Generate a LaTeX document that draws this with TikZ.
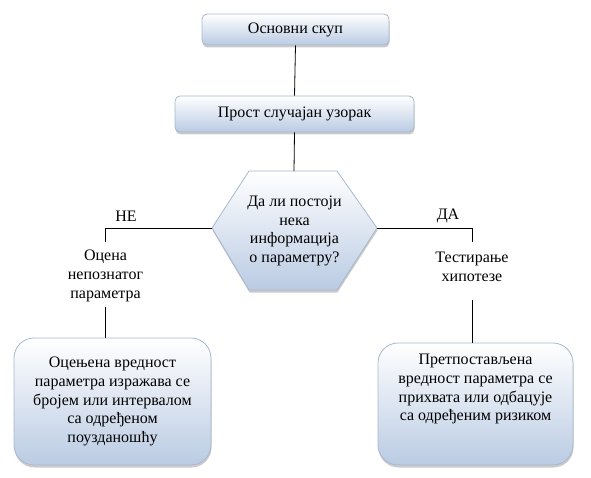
\documentclass[tikz,border=0pt]{standalone}
\usepackage{fontspec}
\setmainfont{LiberationSerif}[Extension=.ttf, UprightFont=*-Regular, BoldFont=*-Bold, ItalicFont=*-Italic, BoldItalicFont=*-BoldItalic]
\usetikzlibrary{shadows,calc}
\definecolor{bx}{RGB}{186,203,227}
\definecolor{bd}{RGB}{168,184,206}
\newcommand{\dfont}{\fontsize{16}{18.7}\selectfont}
\tikzset{
  boxbase/.style={draw=bd, line width=0.8pt, top color=white, bottom color=bx,
    drop shadow={shadow xshift=0.5pt, shadow yshift=-2.5pt, fill=black!45, opacity=0.45},
    align=center, inner sep=0pt, font=\dfont},
  topbox/.style={boxbase, rounded corners=5pt},
  bigbox/.style={boxbase, rounded corners=20pt},
  plain/.style={align=center, inner sep=0pt, font=\dfont},
  conn/.style={draw=black, line width=0.8pt}
}
\begin{document}
\begin{tikzpicture}[x=1pt,y=1pt]
\useasboundingbox (0,0) rectangle (591,477);
% top boxes
\node[topbox, minimum width=187pt, minimum height=31pt] (b1) at (295.5,447.5) {Основни скуп};
\node[topbox, minimum width=239pt, minimum height=36pt] (b2) at (294.5,363) {Прост случајан узорак};
% hexagon
\path[boxbase] (212,249) -- (249,306) -- (337,306) -- (377,249) -- (337,187) -- (249,187) -- cycle;
\coordinate (qt) at (294,306);
\coordinate (ql) at (212,249);
\coordinate (qr) at (377,249);
\node[plain] (q) at (294.5,246) {Да ли постоји\\нека\\информација\\о параметру?};
% side texts
\node[plain] (lt) at (105.5,201) {Оцена\\непознатог\\параметра};
\node[plain] (rt) at (472,210) {Тестирање\\хипотезе};
\coordinate (lc) at (105.5,249);
\coordinate (rc) at (472,249);
\coordinate (lta) at (105.5,235);
\coordinate (ltb) at (105.5,170);
\coordinate (rta) at (472,235);
\coordinate (rtb) at (472,177);
\node[plain] (ne) at (126,261) {НЕ};
\node[plain] (da) at (448,261) {ДА};
% bottom boxes
\node[bigbox, minimum width=197pt, minimum height=127pt] (lb) at (112.5,75.5)
  {Оцењена вредност\\параметра изражава се\\бројем или интервалом\\са одређеном\\поузданошћу};
\node[bigbox, minimum width=195pt, minimum height=122pt] (rb) at (475.5,73)
  {Претпостављена\\вредност параметра се\\прихвата или одбацује\\са одређеним ризиком\\[14pt]};
% connectors
\draw[conn] (b1.south) -- (b2.north);
\draw[conn] (b2.south) -- (qt);
\draw[conn] (ql) -- (lc) -- (lta);
\draw[conn] (ltb) -- (ltb |- lb.north);
\draw[conn] (qr) -- (rc) -- (rta);
\draw[conn] (rtb) -- (rtb |- rb.north);
\end{tikzpicture}
\end{document}
